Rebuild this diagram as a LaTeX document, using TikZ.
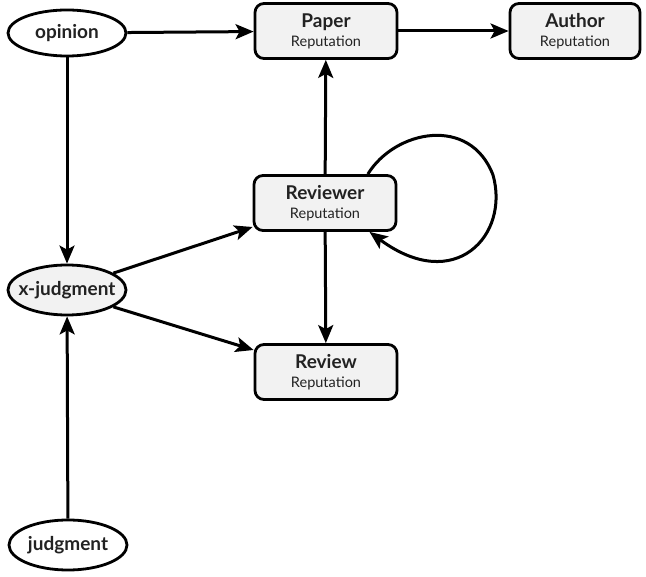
\documentclass[tikz,border=0pt]{standalone}
\usepackage{fontspec}
\setmainfont{Lato}
\usetikzlibrary{arrows.meta,shapes.geometric}
\definecolor{boxfill}{HTML}{F2F2F2}
\definecolor{txt}{HTML}{222222}
\tikzset{
  repbox/.style={draw, line width=2.8pt, rounded corners=9pt, fill=boxfill,
    minimum width=142pt, minimum height=55pt, align=center, inner sep=2pt, text=txt,
    font=\fontsize{14.5}{17}\selectfont},
  ell/.style={draw, ellipse, line width=2.8pt, minimum width=118pt, minimum height=46pt,
    inner sep=1pt, font=\fontsize{19}{22}\selectfont\bfseries, text=txt},
  conn/.style={line width=3pt, -{Stealth[length=18pt,width=15pt,inset=4pt]}},
}
\newcommand{\rep}[1]{{\fontsize{19}{22}\selectfont\bfseries #1}\\[2pt]Reputation}
\begin{document}
\begin{tikzpicture}[x=1pt,y=-1pt]
\useasboundingbox (0,0) rectangle (646,577);
\node[ell, fill=white] (op) at (67,33) {opinion};
\node[ell, fill=boxfill, minimum height=50pt, inner xsep=-16pt] (xj) at (67,290) {x-judgment};
\node[ell, fill=white, minimum height=50pt] (jd) at (68,545) {judgment};
\node[repbox] (pap) at (326,31) {\rep{Paper}};
\node[repbox, minimum width=130pt] (aut) at (575,31) {\rep{Author}};
\node[repbox] (rvr) at (325,203) {\rep{Reviewer}};
\node[repbox] (rvw) at (326,372) {\rep{Review}};
\draw[conn] (op) -- (pap);
\draw[conn] (pap) -- (aut);
\draw[conn] (op) -- (xj);
\draw[conn] (jd) -- (xj);
\draw[conn] (xj.20) -- (rvr.west |- 0,227);
\draw[conn] (xj.-20) -- (rvw.west |- 0,350);
\draw[conn] (rvr) -- (pap);
\draw[conn] (rvr) -- (rvw);
\draw[conn] (rvr.34) .. controls (395,130) and (470,115) .. (493,175)
  .. controls (510,235) and (455,295) .. (rvr.-33);
\end{tikzpicture}
\end{document}
